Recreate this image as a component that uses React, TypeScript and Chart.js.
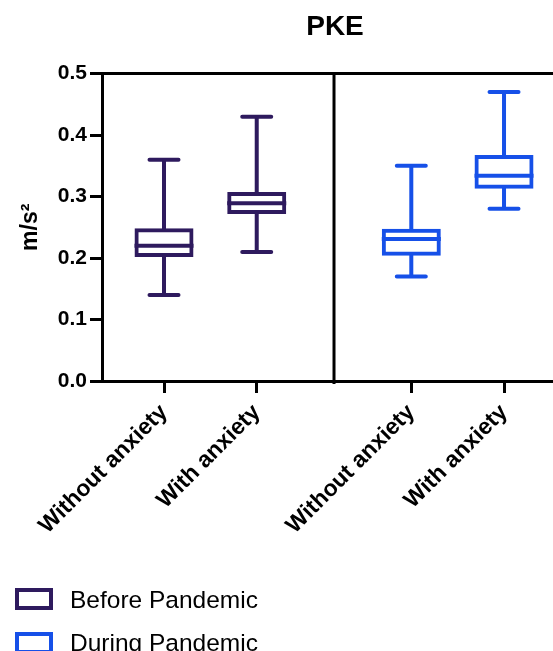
import React, { useEffect, useRef } from "react";
import { Chart, registerables } from "chart.js";

Chart.register(...registerables);

// ---------- data ----------
const chartTitle = "PKE";
const yAxisTitle = "m/s²";
const categories = ["Without anxiety", "With anxiety", "Without anxiety", "With anxiety"];
const seriesNames = ["Before Pandemic", "During Pandemic"];
const seriesColors = ["#2e1a5e", "#1650e8"];

// x positions of the boxes (Prism-style grouped layout with a gap between groups)
const beforeX = [1, 2];
const duringX = [3.667, 4.667];

const beforeMin = [0.14, 0.21];
const beforeQ1 = [0.204, 0.274];
const beforeMedian = [0.22, 0.289];
const beforeQ3 = [0.246, 0.305];
const beforeMax = [0.36, 0.43];

const duringMin = [0.17, 0.28];
const duringQ1 = [0.206, 0.315];
const duringMedian = [0.231, 0.334];
const duringQ3 = [0.245, 0.365];
const duringMax = [0.35, 0.47];

const yMin = 0;
const yMax = 0.5;
const yStep = 0.1;

// ---------- layout / style ----------
const W = 553; // visible width
const CW = 568; // canvas width (plot frame runs past the right edge, as in the reference)
const H = 651;
const FONT = "'Liberation Sans', Arial, Helvetica, sans-serif";

const stats = [
  { x: beforeX, min: beforeMin, q1: beforeQ1, med: beforeMedian, q3: beforeQ3, max: beforeMax },
  { x: duringX, min: duringMin, q1: duringQ1, med: duringMedian, q3: duringQ3, max: duringMax },
];
const allX = [...beforeX, ...duringX];
const dividerX = (beforeX[beforeX.length - 1] + duringX[0]) / 2;

const boxPlugin = {
  id: "boxWhiskers",
  beforeDatasetsDraw(chart: any) {
    const { ctx, chartArea, scales } = chart;
    ctx.save();
    ctx.strokeStyle = "#000";
    ctx.lineWidth = 3;
    ctx.lineCap = "butt";
    // top frame line
    ctx.beginPath();
    ctx.moveTo(chartArea.left - 1.5, chartArea.top);
    ctx.lineTo(chartArea.right, chartArea.top);
    ctx.stroke();
    // group divider
    const dx = scales.x.getPixelForValue(dividerX);
    ctx.beginPath();
    ctx.moveTo(dx, chartArea.top);
    ctx.lineTo(dx, chartArea.bottom + 3);
    ctx.stroke();
    ctx.restore();
  },
  afterDatasetsDraw(chart: any) {
    const { ctx, scales } = chart;
    const y = scales.y;
    ctx.save();
    stats.forEach((s, d) => {
      const meta = chart.getDatasetMeta(d);
      const color = seriesColors[d];
      ctx.strokeStyle = color;
      ctx.lineWidth = 4;
      meta.data.forEach((el: any, i: number) => {
        const x = el.x;
        const half = el.width / 2 + 1.5;
        const pMin = y.getPixelForValue(s.min[i]);
        const pQ1 = y.getPixelForValue(s.q1[i]);
        const pMed = y.getPixelForValue(s.med[i]);
        const pQ3 = y.getPixelForValue(s.q3[i]);
        const pMax = y.getPixelForValue(s.max[i]);
        ctx.lineCap = "butt";
        // whiskers
        ctx.beginPath();
        ctx.moveTo(x, pQ3);
        ctx.lineTo(x, pMax);
        ctx.moveTo(x, pQ1);
        ctx.lineTo(x, pMin);
        ctx.stroke();
        // median
        ctx.beginPath();
        ctx.moveTo(x - half, pMed);
        ctx.lineTo(x + half, pMed);
        ctx.stroke();
        // caps
        ctx.lineCap = "round";
        ctx.beginPath();
        ctx.moveTo(x - 14.5, pMax);
        ctx.lineTo(x + 14.5, pMax);
        ctx.moveTo(x - 14.5, pMin);
        ctx.lineTo(x + 14.5, pMin);
        ctx.stroke();
      });
    });
    ctx.restore();
  },
};

export default function App() {
  const canvasRef = useRef<HTMLCanvasElement | null>(null);

  useEffect(() => {
    if (!canvasRef.current) return;
    Chart.defaults.font.family = FONT;
    Chart.defaults.color = "#000";

    const datasets = stats.map((s, d) => ({
      type: "bar" as const,
      label: seriesNames[d],
      data: s.x.map((xv, i) => ({ x: xv, y: [s.q1[i], s.q3[i]] })),
      backgroundColor: "rgba(0,0,0,0)",
      borderColor: seriesColors[d],
      borderWidth: 1,
      inflateAmount: 1.5,
      borderSkipped: false,
      barThickness: 56,
      grouped: false,
    }));

    const chart = new Chart(canvasRef.current, {
      type: "bar",
      data: { datasets: datasets as any },
      plugins: [boxPlugin],
      options: {
        responsive: false,
        animation: false,
        events: [],
        layout: { padding: { left: 0, right: 0, top: 0, bottom: 0 } },
        plugins: {
          legend: { display: false },
          tooltip: { enabled: false },
          title: {
            display: true,
            text: chartTitle,
            fullSize: false,
            font: { size: 28, weight: "bold", family: FONT },
            color: "#000",
            padding: { top: 10, bottom: 30 },
          },
        },
        scales: {
          x: {
            type: "linear",
            min: 0.3313,
            max: 5.357,
            offset: false,
            afterFit: (scale: any) => {
              scale.height = H - 381;
            },
            afterBuildTicks: (scale: any) => {
              scale.ticks = allX.map((v) => ({ value: v }));
            },
            grid: {
              display: true,
              offset: false,
              drawOnChartArea: false,
              drawTicks: true,
              tickLength: 12,
              tickWidth: 3,
              tickColor: "#000",
            },
            border: { display: true, color: "#000", width: 3 },
            ticks: {
              autoSkip: false,
              minRotation: 45,
              maxRotation: 45,
              padding: 6,
              color: "#000",
              font: { size: 23, weight: "bold", family: FONT },
              callback: (_v: any, i: number) => categories[i],
            },
          },
          y: {
            type: "linear",
            min: yMin,
            max: yMax,
            afterFit: (scale: any) => {
              scale.width = 102;
            },
            grid: {
              display: true,
              drawOnChartArea: false,
              drawTicks: true,
              tickLength: 12,
              tickWidth: 3,
              tickColor: "#000",
            },
            border: { display: true, color: "#000", width: 3 },
            ticks: {
              stepSize: yStep,
              padding: 3,
              color: "#000",
              font: { size: 21, weight: "bold", family: FONT },
              callback: (v: any) => Number(v).toFixed(1),
            },
            title: {
              display: true,
              text: yAxisTitle,
              color: "#000",
              font: { size: 23, weight: "bold", family: FONT },
              padding: { top: 17, bottom: 0 },
            },
          },
        },
      } as any,
    });
    return () => chart.destroy();
  }, []);

  return (
    <div
      style={{
        position: "fixed",
        left: 0,
        top: 0,
        width: W,
        height: H,
        background: "#fff",
        overflow: "hidden",
      }}
    >
      <canvas ref={canvasRef} width={CW} height={H} style={{ display: "block" }} />
      {seriesNames.map((name, i) => (
        <div
          key={name}
          style={{
            position: "absolute",
            left: 15,
            top: 588 + i * 43.5,
            height: 22,
            display: "flex",
            alignItems: "center",
          }}
        >
          <div
            style={{
              width: 38,
              height: 22,
              border: `4px solid ${seriesColors[i]}`,
              boxSizing: "border-box",
              flex: "none",
            }}
          />
          <span
            style={{
              marginLeft: 17,
              fontFamily: FONT,
              fontSize: 24.5,
              lineHeight: "25px",
              color: "#000",
              whiteSpace: "nowrap",
            }}
          >
            {name}
          </span>
        </div>
      ))}
    </div>
  );
}
